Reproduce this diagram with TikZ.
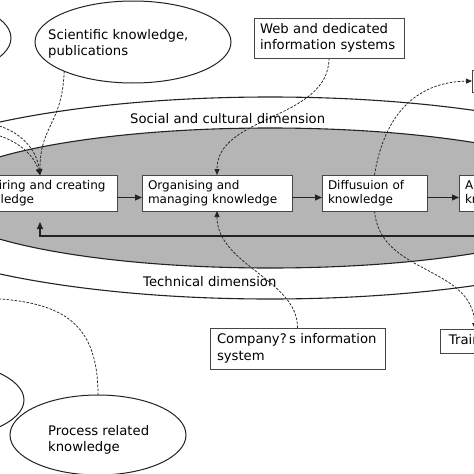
\documentclass[tikz,border=0pt]{standalone}
\usepackage{fontspec}
\setmainfont{DejaVu Sans}
\usetikzlibrary{arrows.meta,shapes.geometric}
\pgfdeclarelayer{back}
\pgfdeclarelayer{mid}
\pgfsetlayers{back,mid,main}
\definecolor{ink}{RGB}{35,35,35}
\definecolor{boxline}{RGB}{70,70,70}
\definecolor{band}{RGB}{181,181,181}
\begin{document}
\begin{tikzpicture}[x=1pt,y=-1pt,
  bigfont/.style={font=\fontsize{13.2}{16.5}\selectfont},
  smallfont/.style={font=\fontsize{12}{14}\selectfont},
  pbox/.style={draw=boxline, line width=1pt, fill=white, smallfont, align=left, inner xsep=6pt, inner ysep=0pt, minimum height=36pt, outer sep=0pt},
  ibox/.style={draw=boxline, line width=1pt, fill=white, bigfont, align=left, inner xsep=6pt, inner ysep=0pt, outer sep=0pt},
  oval/.style={ellipse, draw=ink, line width=1pt, fill=white, inner sep=0pt, outer sep=0pt},
  txt/.style={bigfont, align=left, inner sep=0pt, anchor=base west},
  flow/.style={draw=ink, line width=1.1pt, -{Triangle[length=7pt,width=6pt]}},
  link/.style={draw=ink, line width=0.75pt, dash pattern=on 2.5pt off 1.5pt, -{Triangle[length=6pt,width=5pt]}},
  plainlink/.style={draw=ink, line width=0.75pt, dash pattern=on 2.5pt off 1.5pt},
]
\useasboundingbox (0,0) rectangle (474,474);

\begin{pgfonlayer}{back}
\clip (0,0) rectangle (474,474);
\draw[draw=ink, line width=1.1pt, fill=white] (270,198) ellipse [x radius=410, y radius=101];
\draw[draw=ink, line width=1.1pt, fill=band] (270,198) ellipse [x radius=334, y radius=70];
\end{pgfonlayer}

\clip (0,0) rectangle (474,474);

% dimension labels
\node[txt] (social) at (130,123) {Social and cultural dimension};
\node[txt] (tech) at (143,286) {Technical dimension};

% ellipses
\node[oval, minimum width=190pt, minimum height=80pt] (tl) at (-84,38) {};
\node[oval, minimum width=196pt, minimum height=82pt] (sci) at (133,42) {};
\node[oval, minimum width=190pt, minimum height=80pt] (bl) at (-71,400) {};
\node[oval, minimum width=176pt, minimum height=80pt] (proc) at (98,435) {};
\node[txt] (scit) at (48,55.5) {Scientific knowledge,\\publications};
\node[txt] (proct) at (48,451.5) {Process related\\knowledge};

% process boxes
\node[pbox, text width=142pt, anchor=east] (b1) at (117,193) {Acquiring and creating\\knowledge};
\node[pbox, text width=138pt] (b2) at (217,193) {Organising and\\managing knowledge};
\node[pbox, text width=93pt] (b3) at (374.5,193) {Diffusuion of\\knowledge};
\node[pbox, text width=100pt, anchor=west] (b4) at (459,193) {Applying\\knowledge};

% information boxes
\node[ibox, text width=138pt, minimum height=40pt] (web) at (329,38) {Web and dedicated\\information systems};
\node[ibox, text width=161pt, inner xsep=7pt, minimum height=41pt] (comp) at (297.5,348.5) {Company?\,s information\\system};
\node[ibox, inner xsep=7pt, minimum height=24pt, minimum width=70pt, anchor=west] (train) at (440,341) {Training};
\node[ibox, minimum width=50pt, minimum height=22pt, anchor=west] (tr) at (472,81) {};

% free ends
\coordinate (lt1) at (-12,123);
\coordinate (lt2) at (-12,133);
\coordinate (pend) at (-20,298);
\coordinate (fbR) at (500,236);

\begin{pgfonlayer}{mid}
\clip (0,0) rectangle (474,474);
\draw[link] (sci.203) .. controls (62,125) and (40,125) .. (b1.north);
\draw[link] (lt1) .. controls (15,128) and (36,145) .. (b1.north);
\draw[link] (lt2) .. controls (12,137) and (33,152) .. (b1.north);
\draw[link] (web.south) .. controls (329,120) and (217,115) .. (b2.north);
\draw[link] (comp.north) .. controls (298,280) and (217,265) .. (b2.south);
\draw[link] (b3.north) .. controls (385,110) and (420,82) .. (tr.west);
\draw[link] (b3.south) .. controls (380,275) and (472,265) .. (train.north);
\draw[plainlink] (proc.north) .. controls (98,320) and (60,300) .. (pend);
\draw[flow] (fbR) -- (fbR -| b1.south) -- ([yshift=-11pt]b1.south);
\end{pgfonlayer}

\draw[flow] ([yshift=-4.5pt]b1.east) -- ([yshift=-4.5pt]b2.west);
\draw[flow] ([yshift=-4.5pt]b2.east) -- ([yshift=-4.5pt]b3.west);
\draw[flow] ([yshift=-4.5pt]b3.east) -- ([yshift=-4.5pt]b4.west);
\end{tikzpicture}
\end{document}
